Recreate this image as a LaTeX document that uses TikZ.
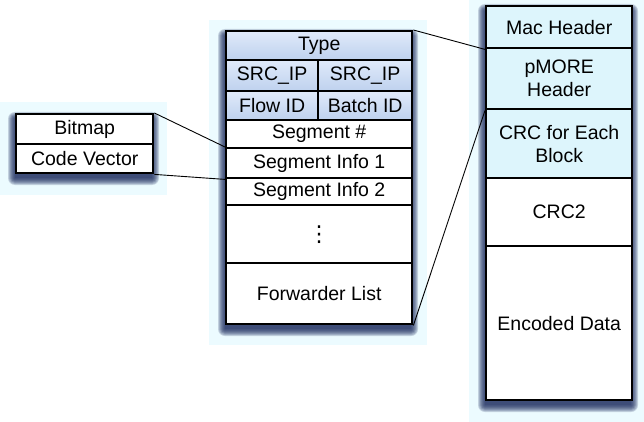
\documentclass[tikz,border=0pt]{standalone}
\usepackage{fontspec}
\setmainfont{Liberation Sans}
\newfontfamily\symfont{DejaVu Sans}
\definecolor{halo}{RGB}{236,251,255}
\definecolor{hdrtop}{RGB}{224,234,250}
\definecolor{hdrbot}{RGB}{190,209,238}
\definecolor{pkthdr}{RGB}{221,245,252}
\definecolor{shadowblue}{RGB}{30,45,95}
\tikzset{
  cell/.style={draw=black, line width=2.4pt, anchor=north west, inner sep=0pt,
    align=center, font=\fontsize{19.5}{23}\selectfont},
  hdrcell/.style={cell, top color=hdrtop, bottom color=hdrbot},
  pktcell/.style={cell, fill=pkthdr},
  plaincell/.style={cell, fill=white},
  shadowstep/.style={fill=shadowblue, opacity=0.2, rounded corners=#1},
  link/.style={draw=black, line width=0.9pt}
}
\begin{document}
\begin{tikzpicture}[x=1pt, y=-1pt]
    \useasboundingbox (0,0) rectangle (644,422);
    % light backgrounds
    \fill [halo] (0,102) rectangle (167,195);
    \fill [halo] (209,20) rectangle (427,345);
    \fill [halo] (469,0) rectangle (644,422);
    % soft shadows behind the three blocks
    \foreach \xa/\ya/\xb/\yb in {15/113/152/172, 225/30/411/323, 485/5/631/399}
      \foreach \r in {7,6,...,0}
        \fill [shadowstep=\r pt] (\xa-\r,\ya+6-\r) rectangle (\xb+\r,\yb+6+\r);

    % left block
    \node [plaincell, minimum width=137pt, minimum height=30pt] (bitmap) at (15,113) {Bitmap};
    \node [plaincell, minimum width=137pt, minimum height=29pt] (codevec) at (15,143) {Code Vector};

    % middle block
    \node [hdrcell, minimum width=186pt, minimum height=29pt] (type) at (225,30) {Type};
    \node [hdrcell, minimum width=92pt, minimum height=31pt] (srcA) at (225,59) {SRC\_IP};
    \node [hdrcell, minimum width=94pt, minimum height=31pt] (srcB) at (317,59) {SRC\_IP};
    \node [hdrcell, minimum width=92pt, minimum height=29pt] (flow) at (225,90) {Flow ID};
    \node [hdrcell, minimum width=94pt, minimum height=29pt] (batch) at (317,90) {Batch ID};
    \node [plaincell, minimum width=186pt, minimum height=28pt] (segnum) at (225,119) {Segment \#};
    \node [plaincell, minimum width=186pt, minimum height=30pt] (seginfoA) at (225,147) {Segment Info 1};
    \node [plaincell, minimum width=186pt, minimum height=27pt] (seginfoB) at (225,177) {Segment Info 2};
    \node [plaincell, minimum width=186pt, minimum height=58pt, font=\symfont\fontsize{22}{24}\selectfont] (dots) at (225,204) {⋮};
    \node [plaincell, minimum width=186pt, minimum height=61pt] (fwd) at (225,262) {Forwarder List};

    % right block
    \node [pktcell, minimum width=146pt, minimum height=42pt] (mac) at (485,5) {Mac Header};
    \node [pktcell, minimum width=146pt, minimum height=61pt] (pmore) at (485,47) {pMORE\\Header};
    \node [pktcell, minimum width=146pt, minimum height=69pt] (crc) at (485,108) {CRC for Each\\Block};
    \node [plaincell, minimum width=146pt, minimum height=68pt] (crcB) at (485,177) {CRC2};
    \node [plaincell, minimum width=146pt, minimum height=154pt] (data) at (485,245) {Encoded Data};

    % zoom lines
    \draw [link] (bitmap.north east) -- (seginfoA.north west);
    \draw [link] (codevec.south east) -- (seginfoA.south west);
    \draw [link] (type.north east) -- (mac.south west);
    \draw [link] (fwd.south east) -- (pmore.south west);
\end{tikzpicture}
\end{document}
